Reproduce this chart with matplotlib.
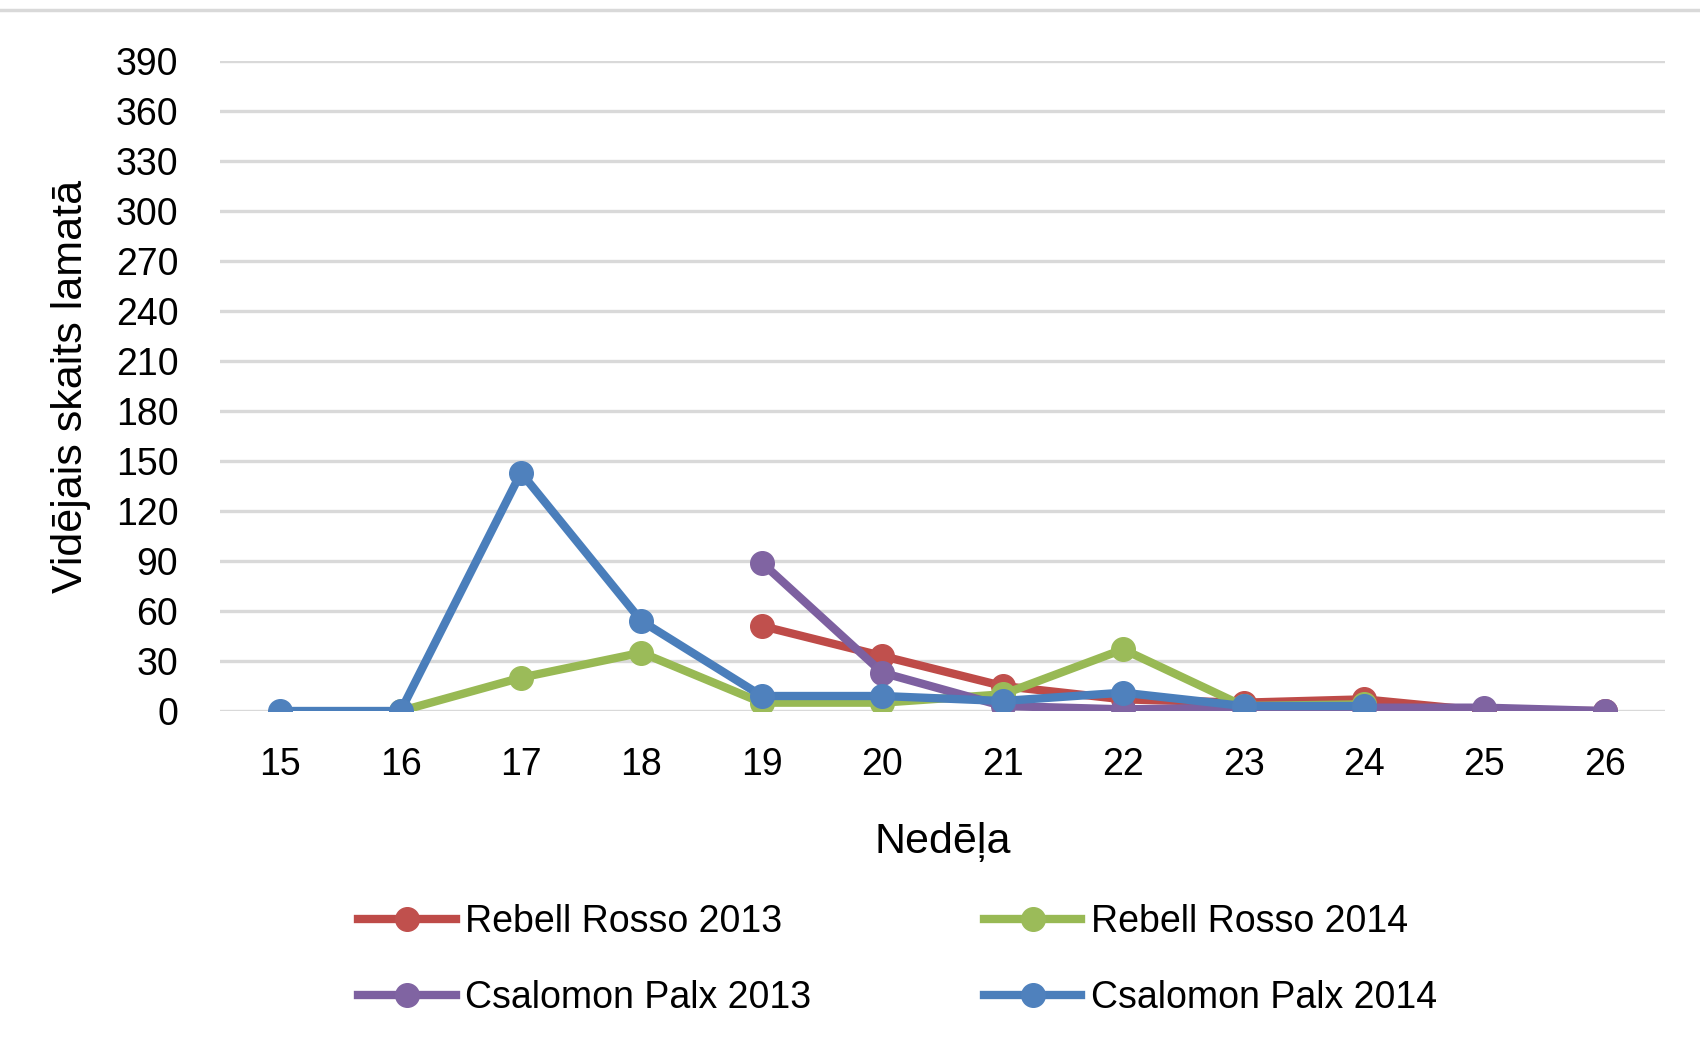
import numpy as np
import matplotlib
matplotlib.use("Agg")
import matplotlib.pyplot as plt
from matplotlib.lines import Line2D

plt.rcParams['font.family'] = ['Liberation Sans', 'DejaVu Sans']
plt.rcParams['font.size'] = 27

weeks = np.arange(15, 27)
nan = np.nan

red_2013 = [nan, nan, nan, nan, 51, 33, 15, 7, 5, 7, 0, 0]
green_2014 = [nan, 0, 20, 35, 5, 5, 10, 37, 3, 4, nan, nan]
purple_2013 = [nan, nan, nan, nan, 89, 23, 3, 1, 2, 2, 2, 0]
blue_2014 = [0, 0, 143, 54, 9, 9, 6, 11, 3, 3, nan, nan]

labels = ["Rebell Rosso 2013", "Rebell Rosso 2014", "Csalomon Palx 2013", "Csalomon Palx 2014"]
series = [red_2013, green_2014, purple_2013, blue_2014]
line_colors = ['#BE4B48', '#98B954', '#7D60A0', '#4A7EBB']
marker_colors = ['#C0504D', '#9BBB59', '#8064A2', '#4F81BD']

yticks = np.arange(0, 391, 30)

fig = plt.figure(figsize=(17, 10.57), dpi=100)
ax = fig.add_axes([220/1700, 1 - 711/1057, (1665 - 220)/1700, (711 - 61)/1057])

x = np.arange(len(weeks))
handles = []
for vals, lab, lc, mc in zip(series, labels, line_colors, marker_colors):
    h, = ax.plot(x, vals, color=lc, lw=6, marker='o', ms=17,
                 markerfacecolor=mc, markeredgecolor=mc, label=lab, zorder=3)
    handles.append(h)

ax.set_xlim(-0.5, len(weeks) - 0.5)
ax.set_ylim(0, 390)
ax.set_yticks(yticks)
ax.set_xticks(x)
ax.set_xticklabels([str(w) for w in weeks])
ax.yaxis.grid(True, color='#D9D9D9', lw=2.4)
ax.set_axisbelow(True)
for s in ax.spines.values():
    s.set_visible(False)
ax.tick_params(axis='both', length=0)
ax.tick_params(axis='y', pad=30)
ax.tick_params(axis='x', pad=26)

ax.set_xlabel("Nedēļa", fontsize=31, labelpad=28)
ax.set_ylabel("Vidējais skaits lamatā", fontsize=31, labelpad=18)

fig.add_artist(Line2D([0, 1], [1 - 10/1057] * 2, color='#D9D9D9', lw=2.5))

order = [0, 2, 1, 3]
fig.legend([handles[i] for i in order], [labels[i] for i in order],
           ncol=2, loc='center', bbox_to_anchor=(0.528, 1 - 960/1057),
           frameon=False, handlelength=2.6, handletextpad=0.25,
           columnspacing=4.6, labelspacing=1.05)

fig.savefig("out.png", dpi=100)
